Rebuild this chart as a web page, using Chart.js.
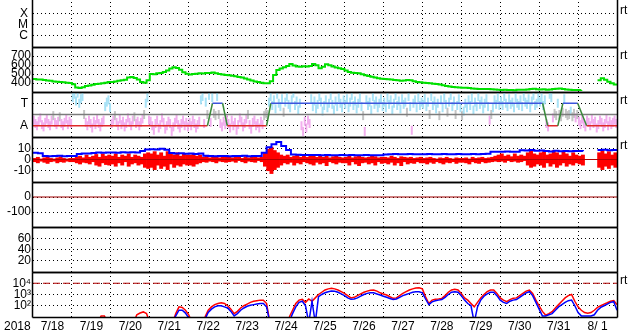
<!DOCTYPE html>
<html><head><meta charset="utf-8">
<script src="https://cdn.jsdelivr.net/npm/chart.js@4.4.1/dist/chart.umd.min.js"></script>
<style>
html,body{margin:0;padding:0;background:#fff;}
body{width:633px;height:334px;overflow:hidden;position:relative;}
canvas{position:absolute;left:0;}
</style>
</head><body>
<script>
// ---------------- DATA ----------------
const yearLabel = '2018';
const dayLabels = ['7/18','7/19','7/20','7/21','7/22','7/23','7/24','7/25','7/26','7/27','7/28','7/29','7/30','7/31','8/ 1'];

// Panel 1: X-ray class (no data in period)
const xrayTicks = [1, 2, 3];
const xrayTickLabels = ['C', 'M', 'X'];

// Panel 2: solar wind speed (km/s), 2-hourly from 7/18 00:00
const speedTicks = [400, 500, 600, 700];
const windSpeed = [
 444,438,440,432,428,425,418,414,410,408,404,400,
 385,350,344,352,366,372,380,388,392,396,404,410,
 412,418,424,430,436,462,468,455,440,410,402,430,
 500,498,508,512,522,540,560,574,566,548,520,502,
 494,500,504,508,506,510,512,518,508,500,494,489,
 486,480,474,468,462,450,438,428,418,410,404,398,
 396,420,490,544,560,574,590,611,595,584,581,586,
 584,590,611,598,563,580,607,596,582,572,563,556,
 540,522,515,510,507,498,486,478,470,462,452,448,
 444,441,438,434,430,426,428,433,430,420,412,408,
 404,400,396,392,389,384,376,368,360,356,354,350,
 348,346,344,340,336,334,333,332,334,331,328,325,
 322,324,322,323,320,324,326,324,328,332,336,330,
 328,330,326,328,332,336,340,334,328,324,322,322,
 322,323,null,null,null,null,430,452,436,414,398,384,
 378];

// Panel 3: IMF sector (A = away, T = toward)
const sectorTicks = [1, 3];
const sectorTickLabels = ['A', 'T'];
const sectorBoundary = 2;
const sectorModelDays   = [0, 4.48, 4.61, 4.87, 4.99, 6.0, 6.11, 13.09, 13.22, 13.48, 13.61, 13.99, 14.22, 15];
const sectorModelLevels = [1, 1,    3,    3,    1,    1,   3,    3,     1,     1,     3,     3,     1,     1];
// hourly sector angle indicator (0..4 scale)
const sectorAngle = [
 1.5,1.2,1.0,1.4,1.7,1.1,0.9,1.3,1.6,1.2,1.0,1.5,1.9,1.3,1.1,1.4,1.8,1.2,1.0,1.3,1.6,1.1,1.4,1.2,
 3.5,3.8,3.2,3.9,3.0,3.4,3.6,2.0,1.3,1.0,1.5,1.2,0.8,1.4,1.1,1.6,1.2,0.9,1.3,1.5,2.7,3.1,3.3,2.6,
 1.2,1.5,1.9,1.3,1.0,1.6,1.1,1.4,0.9,1.2,1.7,1.3,1.0,1.5,1.8,1.2,1.4,1.0,1.3,1.6,2.0,3.0,3.5,1.5,
 1.4,1.0,0.6,1.2,1.5,0.8,1.1,1.7,1.3,0.7,1.0,1.4,1.2,0.5,0.9,1.3,1.6,1.1,0.8,1.2,1.5,1.0,1.3,0.9,
 1.3,1.0,1.5,1.2,0.8,1.1,1.4,3.3,3.6,1.2,3.1,2.0,3.7,1.3,3.5,2.1,1.9,3.6,2.0,1.2,0.9,1.4,1.1,1.6,
 1.2,0.8,1.5,1.0,1.3,0.6,1.1,1.7,1.4,0.9,1.2,1.6,2.0,1.1,0.7,1.3,1.5,1.0,1.2,0.8,1.4,1.1,1.9,2.1,
 2.0,3.1,3.6,2.8,3.3,2.5,3.8,3.0,2.7,3.4,2.2,3.1,3.6,2.9,2.6,3.3,3.9,2.8,3.2,2.4,3.0,1.0,0.5,1.4,
 0.8,1.5,1.2,3.4,2.7,3.2,2.5,2.9,3.6,3.1,2.3,2.8,3.3,2.6,3.0,3.7,2.9,2.4,3.2,2.7,3.5,3.0,2.6,3.3,
 2.9,3.4,2.6,3.1,3.7,2.8,3.2,2.5,3.0,3.5,2.7,1.9,0.5,3.3,2.8,3.1,2.4,3.6,2.9,3.2,2.6,3.0,3.4,2.7,
 3.1,2.6,3.5,2.9,3.3,2.4,3.0,3.7,2.8,3.2,2.5,3.4,2.9,3.1,2.2,3.6,2.7,0.6,3.0,3.3,2.6,3.5,2.8,3.1,
 2.9,3.4,2.7,3.1,2.0,3.6,2.8,3.2,2.5,3.0,1.9,3.3,2.6,3.5,2.9,2.2,3.1,3.7,2.7,3.2,2.0,2.8,3.4,2.6,
 1.9,2.3,3.0,2.6,3.3,2.8,3.5,2.4,3.1,2.7,3.6,2.9,3.2,2.5,3.0,3.4,2.7,1.5,2.0,2.6,3.3,2.9,3.5,2.8,
 3.2,2.8,3.6,3.0,2.7,3.4,2.9,3.1,2.6,3.5,3.0,2.8,3.3,2.7,3.6,3.1,2.9,3.4,2.6,3.2,3.7,2.8,3.0,3.5,
 3.1,3.5,2.8,3.3,1.2,0.9,3.8,3.5,1.7,2.1,1.9,3.0,2.0,1.8,2.2,3.4,2.1,1.9,2.0,2.3,1.8,2.1,1.7,2.0,
 1.4,1.1,1.6,1.2,0.9,1.5,1.3,1.0,1.6,1.2,1.4,0.8,1.1,1.5,1.3,0.9,1.2,1.6,1.0,1.4,1.1,1.3,1.5,1.2];

// Panel 4: IMF |B| (nT), 3-hourly; Bz range (nT), 2-hourly
const imfTicks = [-10, 0, 10];
const imfBt = [
 6,5.5,3.2,3.0,3.1,3.3,3.0,3.1,
 3.2,4.8,5.3,5.4,5.8,6.2,6.0,6.3,
 6.2,6.1,6.4,6.2,6.5,6.3,7.5,8.8,
 9.2,8.8,9.5,8.6,5.8,5.3,5.5,5.2,
 5.3,5.0,5.4,3.3,3.1,3.0,3.2,3.1,
 3.0,3.2,3.1,3.3,3.0,3.1,3.2,6.0,
 11,13.5,15.5,12,8.5,4.5,4.2,4.0,
 4.1,3.9,4.0,3.8,3.9,3.7,3.8,3.9,
 3.8,3.9,3.7,3.8,3.9,3.8,3.7,3.8,
 4.5,4.7,4.8,4.6,4.7,4.9,4.7,4.6,
 4.7,4.8,4.6,4.7,4.8,4.7,4.6,4.8,
 4.7,4.6,4.8,4.7,4.9,5.2,6.8,7.0,
 6.9,7.2,6.8,7.0,8.2,8.0,8.5,7.8,
 8.0,7.5,7.2,7.8,7.4,7.6,7.3,7.5,
 7.6,7.4,null,null,8.4,8.6,8.2,8.4,
 8.3];
const imfBzHigh = [
 1,2,0.5,1.5,2,1,0.5,1.5,2.5,1,0.5,1,
 1,2,3,1.5,4,2,3,4.5,2,5,3,4,
 3,5,2,4,3,5,2,4,3,2,5,6,
 5,7,4,6,3,7,5,4,6,3,5,4,
 4,5,3,4,2,3,1.5,2,3,1.5,2,2.5,
 2,1.5,3,2,1,2.5,1.5,2,3,1.5,2,6,
 9,11,8,6,4,3,4,2,3,4,2,3,
 2,3,4,2,3,2,3,1.5,2.5,3,2,1.5,
 2,3,1.5,2.5,3,2,1.5,2,3,2.5,1.5,2,
 2,1.5,3,2,1,2.5,2,1.5,2,1,1.5,2,
 1,1.5,2,1,0.5,1.5,1,2,1,0.5,1.5,1,
 1,1.5,0.5,2,1,1.5,2,1,1.5,2,3,4,
 5,3,4,2.5,5,3,4,3,6,8,5,4,
 6,7,4,5,8,6,4,7,5,3,6,4,
 3,4,null,null,null,null,6,8,5,7,4,6];
const imfBzLow = [
 -2,-3,-1.5,-2.5,-3.5,-2,-1.5,-3,-2,-2.5,-1.5,-2,
 -2,-3,-4,-2.5,-3,-4,-2,-5,-6,-3,-4.5,-5,
 -4,-6,-3,-5,-2,-6,-4,-3,-5,-4,-7,-8,
 -7,-9,-5,-8,-6,-9,-4,-7,-5,-6,-4,-5,
 -5,-6,-4,-3,-2,-2.5,-1.5,-2,-3,-1.5,-2,-2.5,
 -2,-1.5,-2.5,-1,-2,-3,-1.5,-2,-2.5,-1,-2,-6,
 -10,-12.5,-9,-7,-5,-3,-4,-2.5,-5,-3,-4,-2,
 -3,-4,-5,-2.5,-4,-3,-5.5,-2,-3,-4,-2.5,-3,
 -3,-5,-2,-4,-5.5,-3,-2.5,-4,-3,-5,-2,-3.5,
 -3,-4,-2.5,-5,-3,-5.5,-2,-4,-3,-3.5,-2,-3,
 -3,-4,-2.5,-3.5,-2,-3,-4,-2.5,-3,-2,-3.5,-2.5,
 -2.5,-3,-4,-2,-3,-3.5,-2,-3,-2.5,-2,-1.5,-2,
 -1.5,-2.5,-1,-2,-1.5,-2.5,-2,-1,-5,-7,-6,-4,
 -5,-7,-3,-6,-4,-7,-5,-3,-6,-4,-5,-3,
 -4,-5,null,null,null,null,-7,-9,-6,-8,-5,-7];

// Panel 5 and 6: empty index panels
const dstTicks = [-100, 0];
const kpTicks = [20, 40, 60];

// Panel 7: electron flux, log10, 2-hourly (values below 1 are off scale)
const fluxTicks = [2, 3, 4];
const fluxTickLabels = ['10\u00B2', '10\u00B3', '10\u2074'];
const fluxAlertLevel = 4;
const electronFluxRed = [
 0.5,0.5,0.5,0.5,0.5,0.5,0.5,0.5,0.5,0.5,0.5,0.5,
 0.5,0.5,0.5,0.5,0.5,0.5,0.5,0.5,0.5,1.1,1.1,0.5,
 0.5,0.5,0.5,0.5,0.5,0.5,0.5,0.5,1.2,1.35,1.45,1.3,
 0.5,0.5,0.5,0.5,0.5,0.5,0.5,0.5,1.3,1.9,1.85,1.6,
 1.2,0.5,0.5,0.5,0.5,1.0,1.6,1.9,2.1,2.2,2.27,2.2,
 2.0,1.7,1.3,1.5,1.8,2.0,2.15,2.3,2.4,2.45,2.5,2.5,
 2.2,0.5,0.5,0.5,0.5,0.5,0.5,1.0,1.6,2.2,2.5,2.57,
 2.3,2.6,2.4,2.7,3.0,3.2,3.4,3.5,3.55,3.5,3.4,3.25,
 3.1,2.9,2.7,2.75,2.9,3.05,3.2,3.3,3.38,3.4,3.3,3.15,
 3.05,2.95,2.8,2.66,2.7,2.9,3.1,3.25,3.4,3.5,3.58,3.6,
 3.5,2.8,2.2,2.5,2.57,2.6,2.65,2.9,3.2,3.4,3.46,3.4,
 3.1,2.7,2.5,2.2,1.9,2.3,2.7,3.0,3.25,3.4,3.4,3.1,
 2.7,2.5,2.36,2.55,2.66,2.7,2.9,3.1,3.3,3.4,3.1,2.5,
 2.0,1.5,1.17,1.3,1.47,1.8,2.1,2.4,2.7,2.9,3.0,2.4,
 1.9,1.6,1.4,1.33,1.4,1.6,1.85,2.0,2.15,2.27,2.4,2.45,
 2.1];
const electronFluxBlue = [
 0.5,0.5,0.5,0.5,0.5,0.5,0.5,0.5,0.5,0.5,0.5,0.5,
 0.5,0.5,0.5,0.5,0.5,0.5,0.5,0.5,0.5,0.5,0.5,0.5,
 0.5,0.5,0.5,0.5,0.5,0.5,0.5,0.5,0.5,0.5,0.5,0.5,
 0.5,0.5,0.5,0.5,0.5,0.5,0.5,0.5,1.1,1.6,1.6,1.35,
 0.9,0.5,0.5,0.5,0.5,0.8,1.4,1.7,1.9,2.0,2.0,1.9,
 1.8,1.5,1.1,1.3,1.6,1.8,1.95,2.05,2.1,2.15,2.2,2.2,
 1.9,0.5,0.5,0.5,0.5,0.5,0.5,0.6,1.3,1.9,2.3,2.4,
 2.0,0.5,2.4,0.5,2.8,3.0,3.15,3.25,3.31,3.28,3.2,3.05,
 2.9,2.7,2.57,2.6,2.7,2.85,3.0,3.1,3.16,3.15,3.05,2.95,
 2.85,2.75,2.65,2.55,2.6,2.75,2.9,3.0,3.1,3.2,3.25,3.25,
 3.15,2.6,2.1,2.35,2.45,2.5,2.55,2.75,3.0,3.2,3.25,3.2,
 2.9,2.5,2.2,2.0,0.5,1.9,2.5,2.85,3.05,3.2,3.2,2.9,
 2.5,2.3,2.2,2.4,2.5,2.55,2.75,2.95,3.15,3.25,2.9,2.3,
 1.7,1.1,1.1,1.2,1.3,1.6,1.9,2.1,2.3,2.45,2.5,2.0,
 1.4,1.1,1.1,1.1,1.1,1.2,1.6,1.85,2.0,2.15,2.3,2.36,
 1.6];

// ---------------- LAYOUT / STYLE ----------------
const FONT_FAMILY = "'Liberation Sans', Arial, sans-serif";
Chart.defaults.font.family = FONT_FAMILY;
Chart.defaults.font.size = 12;
Chart.defaults.color = '#000';

const PANEL_TOPS = [2, 47, 92, 137, 182, 227, 272];
const PANEL_H = 45, MARGIN = 10, AXIS_LEFT = 33, PAD_RIGHT = 16, XLABEL_H = 17;
const NDAYS = dayLabels.length;

const panelDecor = {
  id: 'panelDecor',
  afterDraw(chart, args, o) {
    const {ctx, chartArea: a} = chart;
    ctx.save();
    ctx.strokeStyle = '#000';
    ctx.lineWidth = 1.5;
    const L = Math.round(a.left) - 0.5, R = Math.round(a.right) + 0.5;
    const T = Math.round(a.top) + 0.5, B = Math.round(a.bottom) + 0.5;
    const vTop = o.openTop ? 0 : T;
    ctx.beginPath();
    ctx.moveTo(L, vTop); ctx.lineTo(L, B);
    ctx.moveTo(R, vTop); ctx.lineTo(R, B);
    if (!o.openTop) { ctx.moveTo(L, T); ctx.lineTo(R, T); }
    ctx.moveTo(L, B); ctx.lineTo(R, B);
    ctx.stroke();
    ctx.fillStyle = '#000';
    ctx.font = '12px ' + FONT_FAMILY;
    ctx.textBaseline = 'middle';
    ctx.textAlign = 'left';
    if (o.rt) ctx.fillText('rt', R + 2.5, a.top + 9);
    if (o.year) ctx.fillText(o.year, 4, a.bottom + 9.2);
    ctx.restore();
  }
};

function makePanel(idx, cfg) {
  const last = idx === PANEL_TOPS.length - 1;
  const cv = document.createElement('canvas');
  const h = MARGIN + PANEL_H + (last ? XLABEL_H : MARGIN);
  cv.width = 633; cv.height = h;
  cv.style.top = (PANEL_TOPS[idx] - MARGIN) + 'px';
  cv.style.width = '633px'; cv.style.height = h + 'px';
  document.body.appendChild(cv);
  const tickLabels = cfg.tickLabels;
  return new Chart(cv.getContext('2d'), {
    type: 'line',
    data: {datasets: cfg.datasets},
    options: {
      responsive: false, animation: false, events: [],
      devicePixelRatio: 1,
      layout: {padding: {left: 0, right: PAD_RIGHT, top: MARGIN, bottom: last ? 0 : MARGIN}},
      plugins: {legend: {display: false}, tooltip: {enabled: false},
        panelDecor: {rt: cfg.rt, openTop: idx === 0, year: last ? yearLabel : null}},
      elements: {point: {radius: 0}, line: {tension: 0}},
      scales: {
        x: {
          type: 'linear', min: 0, max: NDAYS, offset: false,
          afterBuildTicks: s => { s.ticks = Array.from({length: NDAYS + 1}, (_, i) => ({value: i})); },
          afterFit: s => { s.height = last ? XLABEL_H : 0; s.paddingLeft = 0; s.paddingRight = 0; },
          grid: {offset: false, drawTicks: false, lineWidth: 1,
                 color: c => (c.index === 0 || c.index === NDAYS) ? 'rgba(0,0,0,0)' : '#000'},
          border: {display: false, dash: [1, 3]},
          ticks: {display: last, autoSkip: false, maxRotation: 0, minRotation: 0, padding: 2,
                  labelOffset: 19.5, callback: (v, i) => dayLabels[i] ?? ''}
        },
        y: {
          type: 'linear', min: cfg.min, max: cfg.max,
          afterBuildTicks: s => { s.ticks = cfg.ticks.map(v => ({value: v})); },
          afterFit: s => { s.width = AXIS_LEFT; s.paddingTop = 0; s.paddingBottom = 0; },
          grid: {drawTicks: false, lineWidth: 1, color: '#000'},
          border: {display: false, dash: [1, 3]},
          ticks: {autoSkip: false, padding: cfg.tickPad ?? 2,
                  callback: (v, i) => tickLabels ? tickLabels[i] : String(v)}
        }
      }
    },
    plugins: [panelDecor]
  });
}

const flat = (lvl) => [{x: 0, y: lvl}, {x: NDAYS, y: lvl}];

// Panel 1
makePanel(0, {min: 0, max: 4, ticks: xrayTicks, tickLabels: xrayTickLabels, tickPad: 5, rt: true, datasets: []});

// Panel 2
makePanel(1, {min: 300, max: 800, ticks: speedTicks, rt: true, datasets: [
  {data: windSpeed.map((v, i) => ({x: i / 12, y: v})), borderColor: '#00e000', borderWidth: 2,
   stepped: true, spanGaps: false, pointRadius: 0}
]});

// Panel 3
const sectorColor = v => v > 2.2 ? '#a8e2f6' : (v < 1.8 ? '#f2aeee' : '#c4c4c4');
makePanel(2, {min: 0, max: 4, ticks: sectorTicks, tickLabels: sectorTickLabels, tickPad: 5, rt: true, datasets: [
  {data: sectorModelDays.map((d, i) => ({x: d, y: sectorModelLevels[i]})), borderWidth: 1.5, pointRadius: 0,
   borderColor: '#3a8a3a',
   segment: {borderColor: c => {
     const a = c.p0.parsed.y, b = c.p1.parsed.y;
     if (a === b) return a > sectorBoundary ? '#3c55dd' : '#e02828';
     return '#3a8a3a';
   }}},
  {data: flat(sectorBoundary), borderColor: '#7c7c7c', borderWidth: 1.5, pointRadius: 0},
  {data: sectorAngle.map((v, i) => ({x: (i + 0.5) / 24, y: v})), showLine: false,
   pointStyle: 'line', pointRotation: 90, pointRadius: 4.5, pointBorderWidth: 2,
   pointBorderColor: c => sectorColor(c.raw ? c.raw.y : 0),
   pointBackgroundColor: c => sectorColor(c.raw ? c.raw.y : 0)}
]});

// Panel 4
makePanel(3, {min: -20, max: 20, ticks: imfTicks, rt: true, datasets: [
  {data: imfBt.map((v, i) => ({x: i / 8, y: v})), borderColor: '#0000ff', borderWidth: 2,
   stepped: true, pointRadius: 0},
  {data: flat(0), borderColor: '#b00000', borderWidth: 1, pointRadius: 0},
  {type: 'bar', data: imfBzLow.map((lo, i) => ({x: (i + 0.5) / 12, y: lo === null ? null : [lo, imfBzHigh[i]]})),
   backgroundColor: '#ff0000', borderWidth: 0, barPercentage: 1, categoryPercentage: 1}
]});

// Panel 5
makePanel(4, {min: -200, max: 100, ticks: dstTicks, rt: false, datasets: [
  {data: flat(0), borderColor: '#a00000', borderWidth: 1.2, pointRadius: 0}
]});

// Panel 6
makePanel(5, {min: 0, max: 80, ticks: kpTicks, rt: false, datasets: []});

// Panel 7
makePanel(6, {min: 1, max: 5, ticks: fluxTicks, tickLabels: fluxTickLabels, rt: true, datasets: [
  {data: electronFluxBlue.map((v, i) => ({x: i / 12, y: v})), borderColor: '#0000ff', borderWidth: 1.5, pointRadius: 0},
  {data: electronFluxRed.map((v, i) => ({x: i / 12, y: v})), borderColor: '#ff0000', borderWidth: 1.5, pointRadius: 0},
  {data: flat(fluxAlertLevel), borderColor: '#b00000', borderWidth: 1.2, borderDash: [7, 3], pointRadius: 0}
]});
</script>
</body></html>
